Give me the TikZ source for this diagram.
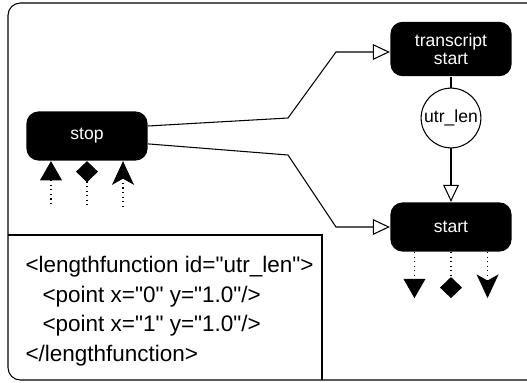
\documentclass[tikz,border=0pt]{standalone}
\usepackage{fontspec}
\setmainfont{Liberation Sans}
\usetikzlibrary{arrows.meta}
\newcommand{\qt}{\textquotedbl}

\begin{document}
\begin{tikzpicture}[x=0.02cm,y=-0.02cm,line width=0.6pt,
    block/.style={rectangle, rounded corners=7pt, fill=black, text=white, minimum width=69pt, minimum height=28pt, inner sep=0, align=center, font=\fontsize{10}{10.5}\selectfont},
    lenlabel/.style={circle, draw, fill=white, minimum size=34pt, inner sep=0, font=\fontsize{10}{12}\selectfont},
    hollow/.style={-{Triangle[open, length=9.7pt, width=9pt]}},
    ]
    \useasboundingbox (0,0) rectangle (527,382);
    % frame and the length function box
    \draw[rounded corners=7pt] (540,3) -- (8,3) -- (8,380) -- (540,380);
    \draw (8,235) -| (322,380);
    \draw
    (87,136)node[block](stop){stop}
    (451,49)node[block, minimum height=31pt](ts){transcript\\start}
    (451,118)node[lenlabel](len){utr\_len}
    (451,227)node[block](st){start}
    (25,311)node[anchor=west, align=left, inner sep=0, font=\fontsize{12.8}{16.8}\selectfont](code){<lengthfunction id=\qt utr\_len\qt>\\\hspace*{9.7pt}<point x=\qt 0\qt{} y=\qt 1.0\qt/>\\\hspace*{9.7pt}<point x=\qt 1\qt{} y=\qt 1.0\qt/>\\</lengthfunction>}
    ;
    \draw[hollow] ([yshift=5.7pt]stop.east) -- (288,118) -- (336,52) -- (336,52 -| ts.west);
    \draw[hollow] ([yshift=-4.5pt]stop.east) -- (288,155) -- (336,227) -- (st.west);
    \draw (ts.south) -- (len.north);
    \draw[hollow] (len.south) -- (st.north);
    % ports below the blocks
    \draw[dotted, {Triangle[length=11pt, width=12.5pt]}-] ([xshift=-20.5pt]stop.south) -- ++(0,46);
    \draw[dotted, {Diamond[length=12pt, width=12.5pt]}-] (stop.south) -- ++(0,46);
    \draw[dotted, {Stealth[length=13.5pt, width=12.5pt, inset=3.5pt]}-] ([xshift=20.5pt]stop.south) -- ++(0,46);
    \draw[dotted, -{Triangle[length=11pt, width=12.5pt]}] ([xshift=-20.8pt]st.south) -- ++(0,46);
    \draw[dotted, -{Diamond[length=12pt, width=12.5pt]}] (st.south) -- ++(0,46);
    \draw[dotted, -{Stealth[length=13.5pt, width=12.5pt, inset=3.5pt]}] ([xshift=20.8pt]st.south) -- ++(0,46);
\end{tikzpicture}
\end{document}
